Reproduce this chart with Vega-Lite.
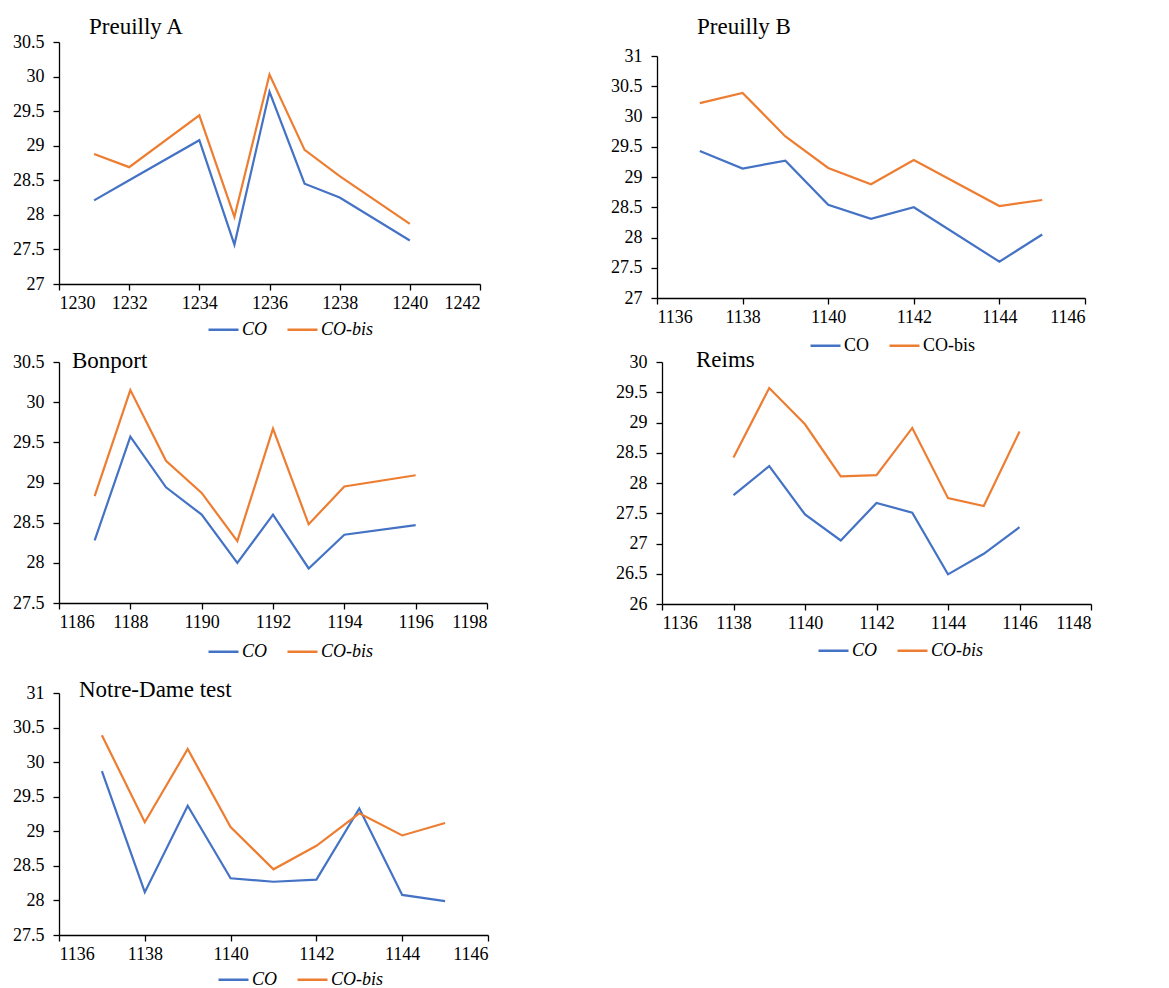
{
  "$schema": "https://vega.github.io/schema/vega-lite/v6.json",
  "background": "white",
  "padding": {"left": 12, "top": 16, "right": 5, "bottom": 0},
  "datasets": {
    "pa": [
      {"year": 1231, "series": "CO", "value": 28.21},
      {"year": 1232, "series": "CO", "value": 28.5},
      {"year": 1234, "series": "CO", "value": 29.08},
      {"year": 1235, "series": "CO", "value": 27.57},
      {"year": 1236, "series": "CO", "value": 29.78},
      {"year": 1237, "series": "CO", "value": 28.45},
      {"year": 1238, "series": "CO", "value": 28.25},
      {"year": 1240, "series": "CO", "value": 27.63},
      {"year": 1231, "series": "CO-bis", "value": 28.88},
      {"year": 1232, "series": "CO-bis", "value": 28.69},
      {"year": 1234, "series": "CO-bis", "value": 29.44},
      {"year": 1235, "series": "CO-bis", "value": 27.97},
      {"year": 1236, "series": "CO-bis", "value": 30.03},
      {"year": 1237, "series": "CO-bis", "value": 28.94},
      {"year": 1238, "series": "CO-bis", "value": 28.56},
      {"year": 1240, "series": "CO-bis", "value": 27.87}
    ],
    "pb": [
      {"year": 1137, "series": "CO", "value": 29.43},
      {"year": 1138, "series": "CO", "value": 29.14},
      {"year": 1139, "series": "CO", "value": 29.27},
      {"year": 1140, "series": "CO", "value": 28.54},
      {"year": 1141, "series": "CO", "value": 28.31},
      {"year": 1142, "series": "CO", "value": 28.5},
      {"year": 1144, "series": "CO", "value": 27.6},
      {"year": 1145, "series": "CO", "value": 28.05},
      {"year": 1137, "series": "CO-bis", "value": 30.22},
      {"year": 1138, "series": "CO-bis", "value": 30.39},
      {"year": 1139, "series": "CO-bis", "value": 29.67},
      {"year": 1140, "series": "CO-bis", "value": 29.15},
      {"year": 1141, "series": "CO-bis", "value": 28.88},
      {"year": 1142, "series": "CO-bis", "value": 29.28},
      {"year": 1144, "series": "CO-bis", "value": 28.52},
      {"year": 1145, "series": "CO-bis", "value": 28.62}
    ],
    "bon": [
      {"year": 1187, "series": "CO", "value": 28.28},
      {"year": 1188, "series": "CO", "value": 29.57},
      {"year": 1189, "series": "CO", "value": 28.94},
      {"year": 1190, "series": "CO", "value": 28.6},
      {"year": 1191, "series": "CO", "value": 28.0},
      {"year": 1192, "series": "CO", "value": 28.6},
      {"year": 1193, "series": "CO", "value": 27.93},
      {"year": 1194, "series": "CO", "value": 28.35},
      {"year": 1196, "series": "CO", "value": 28.47},
      {"year": 1187, "series": "CO-bis", "value": 28.83},
      {"year": 1188, "series": "CO-bis", "value": 30.15},
      {"year": 1189, "series": "CO-bis", "value": 29.27},
      {"year": 1190, "series": "CO-bis", "value": 28.87},
      {"year": 1191, "series": "CO-bis", "value": 28.27},
      {"year": 1192, "series": "CO-bis", "value": 29.67},
      {"year": 1193, "series": "CO-bis", "value": 28.48},
      {"year": 1194, "series": "CO-bis", "value": 28.95},
      {"year": 1196, "series": "CO-bis", "value": 29.09}
    ],
    "reims": [
      {"year": 1138, "series": "CO", "value": 27.8},
      {"year": 1139, "series": "CO", "value": 28.28},
      {"year": 1140, "series": "CO", "value": 27.48},
      {"year": 1141, "series": "CO", "value": 27.05},
      {"year": 1142, "series": "CO", "value": 27.67},
      {"year": 1143, "series": "CO", "value": 27.51},
      {"year": 1144, "series": "CO", "value": 26.49},
      {"year": 1145, "series": "CO", "value": 26.83},
      {"year": 1146, "series": "CO", "value": 27.27},
      {"year": 1138, "series": "CO-bis", "value": 28.42},
      {"year": 1139, "series": "CO-bis", "value": 29.57},
      {"year": 1140, "series": "CO-bis", "value": 28.97},
      {"year": 1141, "series": "CO-bis", "value": 28.11},
      {"year": 1142, "series": "CO-bis", "value": 28.13},
      {"year": 1143, "series": "CO-bis", "value": 28.91},
      {"year": 1144, "series": "CO-bis", "value": 27.75},
      {"year": 1145, "series": "CO-bis", "value": 27.62},
      {"year": 1146, "series": "CO-bis", "value": 28.85}
    ],
    "nd": [
      {"year": 1137, "series": "CO", "value": 29.87},
      {"year": 1138, "series": "CO", "value": 28.12},
      {"year": 1139, "series": "CO", "value": 29.37},
      {"year": 1140, "series": "CO", "value": 28.32},
      {"year": 1141, "series": "CO", "value": 28.27},
      {"year": 1142, "series": "CO", "value": 28.3},
      {"year": 1143, "series": "CO", "value": 29.33},
      {"year": 1144, "series": "CO", "value": 28.08},
      {"year": 1145, "series": "CO", "value": 27.99},
      {"year": 1137, "series": "CO-bis", "value": 30.39},
      {"year": 1138, "series": "CO-bis", "value": 29.13},
      {"year": 1139, "series": "CO-bis", "value": 30.19},
      {"year": 1140, "series": "CO-bis", "value": 29.06},
      {"year": 1141, "series": "CO-bis", "value": 28.45},
      {"year": 1142, "series": "CO-bis", "value": 28.79},
      {"year": 1143, "series": "CO-bis", "value": 29.26},
      {"year": 1144, "series": "CO-bis", "value": 28.94},
      {"year": 1145, "series": "CO-bis", "value": 29.12}
    ]
  },
  "vconcat": [
    {
      "vconcat": [
        {
          "concat": [
            {"width": 1, "height": 1, "data": {"values": []}, "mark": "point"},
            {"width": 1, "height": 1, "data": {"values": []}, "mark": "point"},
            {
              "width": 421, "height": 242,
              "title": {"text": "Preuilly A", "anchor": "start", "frame": "group", "dx": 30, "offset": -6},
              "data": {"name": "pa"},
              "mark": {"type": "line", "strokeWidth": 2.2},
              "encoding": {
                "x": {"field": "year", "type": "quantitative", "scale": {"domain": [1230, 1242], "nice": false, "zero": false}, "axis": {"values": [1230, 1232, 1234, 1236, 1238, 1240, 1242], "format": "d", "title": null}},
                "y": {"field": "value", "type": "quantitative", "scale": {"domain": [27, 30.5], "nice": false, "zero": false}, "axis": {"values": [27, 27.5, 28, 28.5, 29, 29.5, 30, 30.5], "format": "~g", "title": null}},
                "color": {"field": "series", "type": "nominal", "scale": {"domain": ["CO", "CO-bis"], "range": ["#4472C4", "#ED7D31"]}, "legend": {"labelFontStyle": "italic", "orient": "none", "legendX": 148, "legendY": 271}}
              }
            },
            {
              "width": 428, "height": 242,
              "title": {"text": "Preuilly B", "anchor": "start", "frame": "group", "dx": 40, "offset": 8},
              "data": {"name": "pb"},
              "mark": {"type": "line", "strokeWidth": 2.2},
              "encoding": {
                "x": {"field": "year", "type": "quantitative", "scale": {"domain": [1136, 1146], "nice": false, "zero": false}, "axis": {"values": [1136, 1138, 1140, 1142, 1144, 1146], "format": "d", "title": null}},
                "y": {"field": "value", "type": "quantitative", "scale": {"domain": [27, 31], "nice": false, "zero": false}, "axis": {"values": [27, 27.5, 28, 28.5, 29, 29.5, 30, 30.5, 31], "format": "~g", "title": null}},
                "color": {"field": "series", "type": "nominal", "scale": {"domain": ["CO", "CO-bis"], "range": ["#4472C4", "#ED7D31"]}, "legend": {"labelFontStyle": "normal", "orient": "none", "legendX": 152, "legendY": 273}}
              }
            }
          ],
          "columns": 2,
          "align": "none",
          "spacing": {"row": -4, "column": 129},
          "resolve": {"scale": {"color": "independent", "x": "independent", "y": "independent"}, "legend": {"color": "independent"}}
        },
        {
          "hconcat": [
            {
              "width": 428, "height": 241,
              "title": {"text": "Bonport", "anchor": "start", "frame": "group", "dx": 13, "offset": -20},
              "data": {"name": "bon"},
              "mark": {"type": "line", "strokeWidth": 2.2},
              "encoding": {
                "x": {"field": "year", "type": "quantitative", "scale": {"domain": [1186, 1198], "nice": false, "zero": false}, "axis": {"values": [1186, 1188, 1190, 1192, 1194, 1196, 1198], "format": "d", "title": null}},
                "y": {"field": "value", "type": "quantitative", "scale": {"domain": [27.5, 30.5], "nice": false, "zero": false}, "axis": {"values": [27.5, 28, 28.5, 29, 29.5, 30, 30.5], "format": "~g", "title": null}},
                "color": {"field": "series", "type": "nominal", "scale": {"domain": ["CO", "CO-bis"], "range": ["#4472C4", "#ED7D31"]}, "legend": {"labelFontStyle": "italic", "orient": "none", "legendX": 148, "legendY": 273}}
              }
            },
            {
              "width": 429, "height": 242,
              "title": {"text": "Reims", "anchor": "start", "frame": "group", "dx": 34, "offset": -19},
              "data": {"name": "reims"},
              "mark": {"type": "line", "strokeWidth": 2.2},
              "encoding": {
                "x": {"field": "year", "type": "quantitative", "scale": {"domain": [1136, 1148], "nice": false, "zero": false}, "axis": {"values": [1136, 1138, 1140, 1142, 1144, 1146, 1148], "format": "d", "title": null}},
                "y": {"field": "value", "type": "quantitative", "scale": {"domain": [26, 30], "nice": false, "zero": false}, "axis": {"values": [26, 26.5, 27, 27.5, 28, 28.5, 29, 29.5, 30], "format": "~g", "title": null}},
                "color": {"field": "series", "type": "nominal", "scale": {"domain": ["CO", "CO-bis"], "range": ["#4472C4", "#ED7D31"]}, "legend": {"labelFontStyle": "italic", "orient": "none", "legendX": 155, "legendY": 272}}
              }
            }
          ],
          "spacing": 127,
          "resolve": {"scale": {"color": "independent", "x": "independent", "y": "independent"}, "legend": {"color": "independent"}}
        }
      ],
      "spacing": -6,
      "resolve": {"scale": {"color": "independent", "x": "independent", "y": "independent"}, "legend": {"color": "independent"}}
    },
    {
      "width": 429, "height": 242,
      "title": {"text": "Notre-Dame test", "anchor": "start", "frame": "group", "dx": 20, "offset": -18},
      "data": {"name": "nd"},
      "mark": {"type": "line", "strokeWidth": 2.2},
      "encoding": {
        "x": {"field": "year", "type": "quantitative", "scale": {"domain": [1136, 1146], "nice": false, "zero": false}, "axis": {"values": [1136, 1138, 1140, 1142, 1144, 1146], "format": "d", "title": null}},
        "y": {"field": "value", "type": "quantitative", "scale": {"domain": [27.5, 31], "nice": false, "zero": false}, "axis": {"values": [27.5, 28, 28.5, 29, 29.5, 30, 30.5, 31], "format": "~g", "title": null}},
        "color": {"field": "series", "type": "nominal", "scale": {"domain": ["CO", "CO-bis"], "range": ["#4472C4", "#ED7D31"]}, "legend": {"labelFontStyle": "italic", "orient": "none", "legendX": 158, "legendY": 270}}
      }
    }
  ],
  "spacing": 18,
  "resolve": {"scale": {"color": "independent", "x": "independent", "y": "independent"}, "legend": {"color": "independent"}},
  "config": {
    "view": {"stroke": null},
    "font": "Liberation Serif",
    "style": {"guide-label": {"font": "Liberation Serif", "fontSize": 18, "fill": "#000000"}},
    "axis": {
      "grid": false,
      "domainColor": "#000000",
      "domainWidth": 1.3,
      "tickColor": "#000000",
      "tickWidth": 1.3,
      "tickSize": 6,
      "labelColor": "#000000",
      "labelFont": "Liberation Serif",
      "labelFontSize": 18,
      "labelPadding": 9
    },
    "axisX": {"labelPadding": 4},
    "title": {"font": "Liberation Serif", "fontSize": 23, "fontWeight": "normal", "color": "#000000", "baseline": "alphabetic"},
    "legend": {
      "direction": "horizontal",
      "title": null,
      "symbolType": "stroke",
      "symbolStrokeWidth": 2.5,
      "symbolSize": 900,
      "labelFont": "Liberation Serif",
      "labelFontSize": 18,
      "labelColor": "#000000",
      "columnPadding": 14,
      "labelOffset": 2,
      "padding": 0
    }
  }
}
